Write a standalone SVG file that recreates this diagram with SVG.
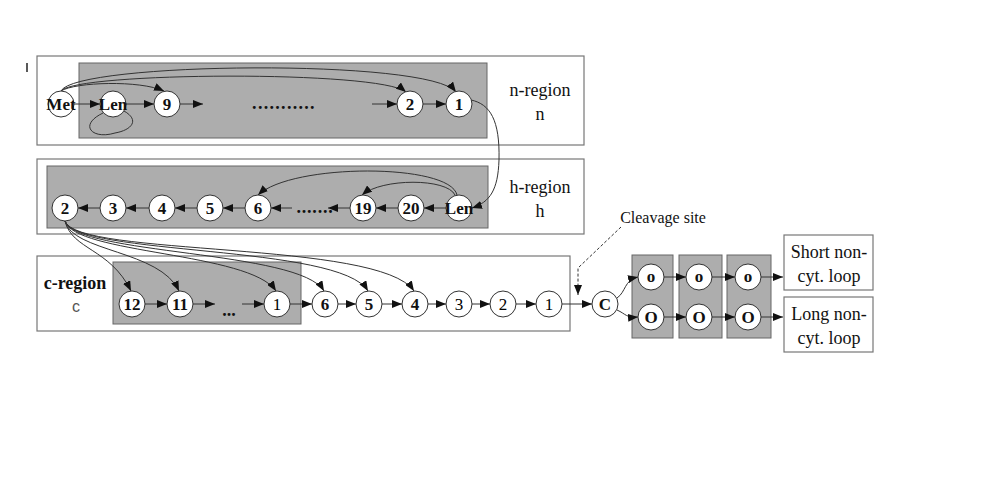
<svg xmlns="http://www.w3.org/2000/svg" width="1002" height="499" viewBox="0 0 1002 499">
<style>
.outer{fill:#fff;stroke:#777;stroke-width:1.2}
.gray{fill:#adadad;stroke:#666;stroke-width:1}
.node circle{fill:#fff;stroke:#333;stroke-width:1}
.node text{font-family:"Liberation Serif",serif;font-size:17px;font-weight:bold;fill:#111;text-anchor:middle;dominant-baseline:central}
.node text.reg{font-weight:normal;fill:#000}
.e{fill:none;stroke:#333;stroke-width:1;marker-end:url(#ah)}
.c{fill:none;stroke:#333;stroke-width:1}
.lbl{font-family:"Liberation Serif",serif;font-size:18px;fill:#111;text-anchor:middle}
.dots{font-family:"Liberation Serif",serif;font-size:18px;font-weight:bold;fill:#111;text-anchor:middle}
</style>
<defs>
<marker id="ah" viewBox="0 0 10 8" refX="10" refY="4" markerWidth="10" markerHeight="8" markerUnits="userSpaceOnUse" orient="auto">
<path d="M0,0 L10,4 L0,8 z" fill="#111"/>
</marker>
</defs>
<rect width="1002" height="499" fill="#fff"/>
<line x1="27" y1="63" x2="27" y2="72" stroke="#222" stroke-width="1.5"/>

<g id="regions">
<rect class="outer" x="37" y="56" width="547" height="89"/>
<rect class="gray" x="79" y="63" width="408" height="75"/>
<text class="lbl" x="540" y="96">n-region</text>
<text class="lbl" x="540" y="120">n</text>
<rect class="outer" x="37" y="159" width="547" height="75"/>
<rect class="gray" x="47" y="166" width="441" height="62"/>
<text class="lbl" x="540" y="193">h-region</text>
<text class="lbl" x="540" y="217">h</text>
<rect class="outer" x="37" y="256" width="533" height="75"/>
<rect class="gray" x="113" y="262" width="188" height="62"/>
<text class="lbl" x="75" y="289" font-weight="bold">c-region</text>
<text x="76" y="312" font-family="Liberation Sans, sans-serif" font-size="16" fill="#555" text-anchor="middle">c</text>
<rect class="gray" x="632" y="255" width="41" height="83"/>
<rect class="gray" x="679" y="255" width="43" height="83"/>
<rect class="gray" x="727" y="255" width="44" height="83"/>
</g>

<g id="dots">
<text class="dots" x="284" y="109" letter-spacing="1.3">...........</text>
<text class="dots" x="315" y="213" letter-spacing="0.8">.......</text>
<text class="dots" x="229" y="316">...</text>
</g>

<g id="connectors">
<line class="e" x1="74" y1="104" x2="100" y2="104"/>
<line class="e" x1="126" y1="104" x2="154" y2="104"/>
<line class="e" x1="180" y1="104" x2="203" y2="104"/>
<line class="e" x1="372" y1="104" x2="397" y2="104"/>
<line class="e" x1="423" y1="104" x2="446" y2="104"/>
<path class="c" d="M103,113 C78,125 92,140 115,133 C132,130 140,120 124,111"/>
<path class="e" d="M61,91 C75,82 140,80 164,91"/>
<path class="e" d="M61,91 C75,72 380,70 406,92"/>
<path class="e" d="M61,91 C75,62 430,58 456,92"/>
<path class="e" d="M471,100 C490,104 500,120 499,160 C498,190 490,202 472,208"/>
<line class="e" x1="100" y1="208" x2="78" y2="208"/>
<line class="e" x1="149" y1="208" x2="126" y2="208"/>
<line class="e" x1="197" y1="208" x2="175" y2="208"/>
<line class="e" x1="245" y1="208" x2="223" y2="208"/>
<line class="e" x1="292" y1="208" x2="271" y2="208"/>
<line class="e" x1="350" y1="208" x2="328" y2="208"/>
<line class="e" x1="398" y1="208" x2="376" y2="208"/>
<line class="e" x1="446" y1="208" x2="424" y2="208"/>
<path class="e" d="M455,195 C447,178 382,178 362,195"/>
<path class="e" d="M457,195 C450,163 292,163 258,195"/>
<path class="e" d="M65,221 C72,250 110,248 131,291"/>
<path class="e" d="M65,221 C72,252 160,250 179,291"/>
<path class="e" d="M65,221 C74,254 250,252 276,291"/>
<path class="e" d="M65,221 C75,255 300,250 324,291"/>
<path class="e" d="M65,221 C76,256 340,244 368,291"/>
<path class="e" d="M65,221 C76,257 380,240 414,291"/>
<line class="e" x1="145" y1="304" x2="167" y2="304"/>
<line class="e" x1="193" y1="304" x2="215" y2="304"/>
<line class="e" x1="242" y1="304" x2="264" y2="304"/>
<line class="e" x1="290" y1="304" x2="312" y2="304"/>
<line class="e" x1="338" y1="304" x2="356" y2="304"/>
<line class="e" x1="382" y1="304" x2="402" y2="304"/>
<line class="e" x1="428" y1="304" x2="446" y2="304"/>
<line class="e" x1="472" y1="304" x2="490" y2="304"/>
<line class="e" x1="516" y1="304" x2="536" y2="304"/>
<line class="e" x1="562" y1="304" x2="592" y2="304"/>
<polyline class="e" points="621,227 578,268 578,295" stroke-dasharray="3,2"/>
<path class="e" d="M617,298 C626,292 624,280 638,277"/>
<path class="e" d="M617,310 C626,314 626,318 638,317"/>
<line class="e" x1="664" y1="277" x2="686" y2="277"/>
<line class="e" x1="712" y1="277" x2="735" y2="277"/>
<line class="e" x1="761" y1="277" x2="783" y2="277"/>
<line class="e" x1="664" y1="317" x2="686" y2="317"/>
<line class="e" x1="712" y1="317" x2="735" y2="317"/>
<line class="e" x1="761" y1="317" x2="783" y2="317"/>
</g>

<g id="n_Met" class="node"><circle cx="61" cy="104" r="13"/><text x="61" y="104" font-size="15">Met</text></g>
<g id="n_Len" class="node"><circle cx="113" cy="104" r="13"/><text x="113" y="104" font-size="15">Len</text></g>
<g id="n_9" class="node"><circle cx="167" cy="104" r="13"/><text x="167" y="104">9</text></g>
<g id="n_2" class="node"><circle cx="410" cy="104" r="13"/><text x="410" y="104">2</text></g>
<g id="n_1" class="node"><circle cx="459" cy="104" r="13"/><text x="459" y="104">1</text></g>

<g id="h_2" class="node"><circle cx="65" cy="208" r="13"/><text x="65" y="208">2</text></g>
<g id="h_3" class="node"><circle cx="113" cy="208" r="13"/><text x="113" y="208">3</text></g>
<g id="h_4" class="node"><circle cx="162" cy="208" r="13"/><text x="162" y="208">4</text></g>
<g id="h_5" class="node"><circle cx="210" cy="208" r="13"/><text x="210" y="208">5</text></g>
<g id="h_6" class="node"><circle cx="258" cy="208" r="13"/><text x="258" y="208">6</text></g>
<g id="h_19" class="node"><circle cx="363" cy="208" r="13"/><text x="363" y="208">19</text></g>
<g id="h_20" class="node"><circle cx="411" cy="208" r="13"/><text x="411" y="208">20</text></g>
<g id="h_Len" class="node"><circle cx="459" cy="208" r="13"/><text x="459" y="208" font-size="15">Len</text></g>

<g id="c_12" class="node"><circle cx="132" cy="304" r="13"/><text x="132" y="304">12</text></g>
<g id="c_11" class="node"><circle cx="180" cy="304" r="13"/><text x="180" y="304">11</text></g>
<g id="c_1a" class="node"><circle cx="277" cy="304" r="13"/><text x="277" y="304" class="reg">1</text></g>
<g id="c_6" class="node"><circle cx="325" cy="304" r="13"/><text x="325" y="304">6</text></g>
<g id="c_5" class="node"><circle cx="369" cy="304" r="13"/><text x="369" y="304">5</text></g>
<g id="c_4" class="node"><circle cx="415" cy="304" r="13"/><text x="415" y="304">4</text></g>
<g id="c_3" class="node"><circle cx="459" cy="304" r="13"/><text x="459" y="304" class="reg">3</text></g>
<g id="c_2" class="node"><circle cx="503" cy="304" r="13"/><text x="503" y="304" class="reg">2</text></g>
<g id="c_1" class="node"><circle cx="549" cy="304" r="13"/><text x="549" y="304" class="reg">1</text></g>
<g id="C" class="node"><circle cx="605" cy="304" r="13"/><text x="605" y="304" font-size="17">C</text></g>

<g id="o1" class="node"><circle cx="651" cy="277" r="13"/><text x="651" y="276" font-size="14">o</text></g>
<g id="o2" class="node"><circle cx="699" cy="277" r="13"/><text x="699" y="276" font-size="14">o</text></g>
<g id="o3" class="node"><circle cx="748" cy="277" r="13"/><text x="748" y="276" font-size="14">o</text></g>
<g id="O1" class="node"><circle cx="651" cy="317" r="13"/><text x="651" y="317" font-size="17">O</text></g>
<g id="O2" class="node"><circle cx="699" cy="317" r="13"/><text x="699" y="317" font-size="17">O</text></g>
<g id="O3" class="node"><circle cx="748" cy="317" r="13"/><text x="748" y="317" font-size="17">O</text></g>

<g id="short_loop">
<rect class="outer" x="784" y="235" width="89" height="55"/>
<text class="lbl" x="829" y="258">Short non-</text>
<text class="lbl" x="829" y="282">cyt. loop</text>
</g>
<g id="long_loop">
<rect class="outer" x="784" y="297" width="89" height="55"/>
<text class="lbl" x="829" y="320">Long non-</text>
<text class="lbl" x="829" y="344">cyt. loop</text>
</g>
<g id="cleavage_label">
<text x="663" y="223" font-family="Liberation Serif, serif" font-size="16" fill="#111" text-anchor="middle">Cleavage site</text>
</g>
</svg>
